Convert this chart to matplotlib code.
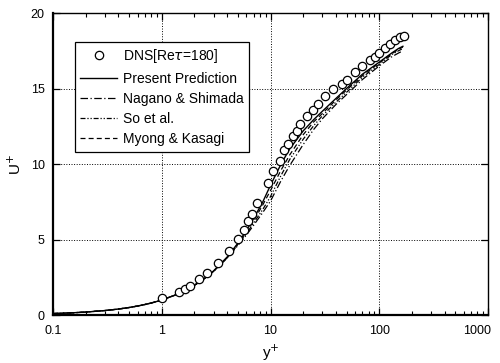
import numpy as np
import matplotlib
matplotlib.use('Agg')
import matplotlib.pyplot as plt
import matplotlib.transforms as mtransforms
from matplotlib.ticker import LogLocator, NullFormatter, FixedLocator

plt.rcParams['font.family'] = ['Liberation Sans', 'DejaVu Sans']

#%% dati
# DNS Re_tau = 180
dns_y = [1.0, 1.44, 1.64, 1.82, 2.2, 2.62, 3.27, 4.15, 5.02, 5.67, 6.17, 6.71, 7.56,
         9.5, 10.6, 12.2, 13.4, 14.6, 16.0, 17.4, 18.7, 21.5, 24.8, 27.5, 31.7, 37.3,
         45.2, 50.2, 59.8, 69.0, 82.3, 91.5, 100.0, 113.0, 125.6, 139.6, 155.0, 169.0]
dns_u = [1.15, 1.54, 1.74, 1.92, 2.36, 2.8, 3.44, 4.26, 5.01, 5.63, 6.25, 6.67, 7.4,
         8.76, 9.54, 10.2, 10.9, 11.3, 11.85, 12.2, 12.65, 13.2, 13.6, 13.97, 14.5, 14.95,
         15.3, 15.56, 16.1, 16.5, 16.9, 17.1, 17.37, 17.66, 17.95, 18.2, 18.4, 18.5]

# modelli
mod_y = [0.1, 0.15, 0.2, 0.3, 0.4, 0.5, 0.6, 0.7, 0.8, 0.9, 1.0, 1.3, 1.6, 2.0, 2.5, 3.0,
         4.0, 5.0, 6.0, 7.0, 8.5, 10.0, 12.5, 15.0, 20.0, 25.0, 30.0, 40.0, 50.0, 70.0,
         100.0, 130.0, 150.0, 165.0]
present_u = [0.1, 0.15, 0.2, 0.3, 0.4, 0.5, 0.6, 0.7, 0.8, 0.9, 1.0, 1.3, 1.6, 1.98, 2.46, 2.93,
             3.85, 4.75, 5.6, 6.4, 7.5, 8.6, 10.0, 11.0, 12.2, 12.95, 13.5, 14.35, 15.0, 15.95,
             16.75, 17.35, 17.65, 17.8]
nagano_u  = [0.1, 0.15, 0.2, 0.3, 0.4, 0.5, 0.6, 0.7, 0.8, 0.9, 1.0, 1.3, 1.6, 1.97, 2.44, 2.9,
             3.78, 4.6, 5.3, 5.95, 6.8, 7.55, 8.9, 9.9, 11.3, 12.3, 13.0, 13.95, 14.6, 15.6,
             16.5, 17.1, 17.35, 17.5]
so_u      = [0.1, 0.15, 0.2, 0.3, 0.4, 0.5, 0.6, 0.7, 0.8, 0.9, 1.0, 1.3, 1.6, 1.97, 2.45, 2.9,
             3.8, 4.65, 5.4, 6.1, 7.0, 7.85, 9.25, 10.3, 11.65, 12.55, 13.2, 14.1, 14.75, 15.75,
             16.6, 17.25, 17.5, 17.65]
myong_u   = [0.1, 0.15, 0.2, 0.3, 0.4, 0.5, 0.6, 0.7, 0.8, 0.9, 1.0, 1.3, 1.6, 1.98, 2.45, 2.92,
             3.82, 4.7, 5.5, 6.25, 7.3, 8.25, 9.6, 10.6, 11.95, 12.8, 13.35, 14.25, 14.9, 15.85,
             16.7, 17.3, 17.6, 17.75]

x_ticks = [0.1, 1, 10, 100, 1000]
x_ticklabels = ['0.1', '1', '10', '100', '1000']
y_ticks = [0, 5, 10, 15, 20]

#%%
fig = plt.figure(figsize=(5.0, 3.63), dpi=100)
ax = fig.add_axes([0.106, 0.132, 0.87, 0.832])

ax.plot(dns_y, dns_u, 'o', mfc='white', mec='black', ms=6, mew=0.9, label='DNS[Re$\\tau$=180]', zorder=5)
ax.plot(mod_y, present_u, '-', color='black', lw=1.0, label='Present Prediction')
ax.plot(mod_y, nagano_u, color='black', lw=0.9, ls=(0, (6, 2, 1, 2)), label='Nagano & Shimada')
ax.plot(mod_y, so_u, color='black', lw=0.9, ls=(0, (4, 1.5, 1, 1.5, 1, 1.5)), label='So et al.')
ax.plot(mod_y, myong_u, color='black', lw=0.9, ls=(0, (4, 2.5)), label='Myong & Kasagi')

ax.set_xscale('log')
ax.set_xlim(0.1, 1000)
ax.set_ylim(0, 20)
ax.xaxis.set_major_locator(FixedLocator(x_ticks))
ax.set_xticklabels(x_ticklabels)
ax.xaxis.set_minor_locator(LogLocator(base=10, subs=np.arange(2, 10), numticks=20))
ax.xaxis.set_minor_formatter(NullFormatter())
ax.set_yticks(y_ticks)

ax.tick_params(which='both', direction='in', top=True, right=True, labelsize=9)
ax.tick_params(which='major', length=5, width=0.9)
ax.tick_params(which='minor', length=3, width=0.8)
ax.tick_params(axis='x', which='major', pad=7)
ax.tick_params(axis='y', which='major', pad=6)
ax.tick_params(axis='y', which='minor', left=False, right=False)

# l'ultima etichetta (1000) spostata un po' a sinistra per non uscire dal bordo
lab = ax.get_xticklabels()[-1]
lab.set_transform(lab.get_transform() + mtransforms.ScaledTranslation(-8/72, 0, fig.dpi_scale_trans))

ax.grid(which='major', linestyle=':', linewidth=0.7, color='black')

for s in ax.spines.values():
    s.set_linewidth(1.0)
ax.spines['left'].set_linewidth(1.6)
ax.spines['bottom'].set_linewidth(1.6)

ax.set_xlabel('y$^{+}$', fontsize=11, labelpad=4)
ax.set_ylabel('U$^{+}$', fontsize=11, labelpad=5)

leg = ax.legend(loc='upper left', bbox_to_anchor=(0.05, 0.905), borderaxespad=0, fontsize=10,
                handlelength=2.65, frameon=True, fancybox=False, edgecolor='black',
                framealpha=1, borderpad=0.4, labelspacing=0.45, handletextpad=0.4)
leg.get_frame().set_linewidth(0.9)

fig.savefig('out.png', dpi=100)
